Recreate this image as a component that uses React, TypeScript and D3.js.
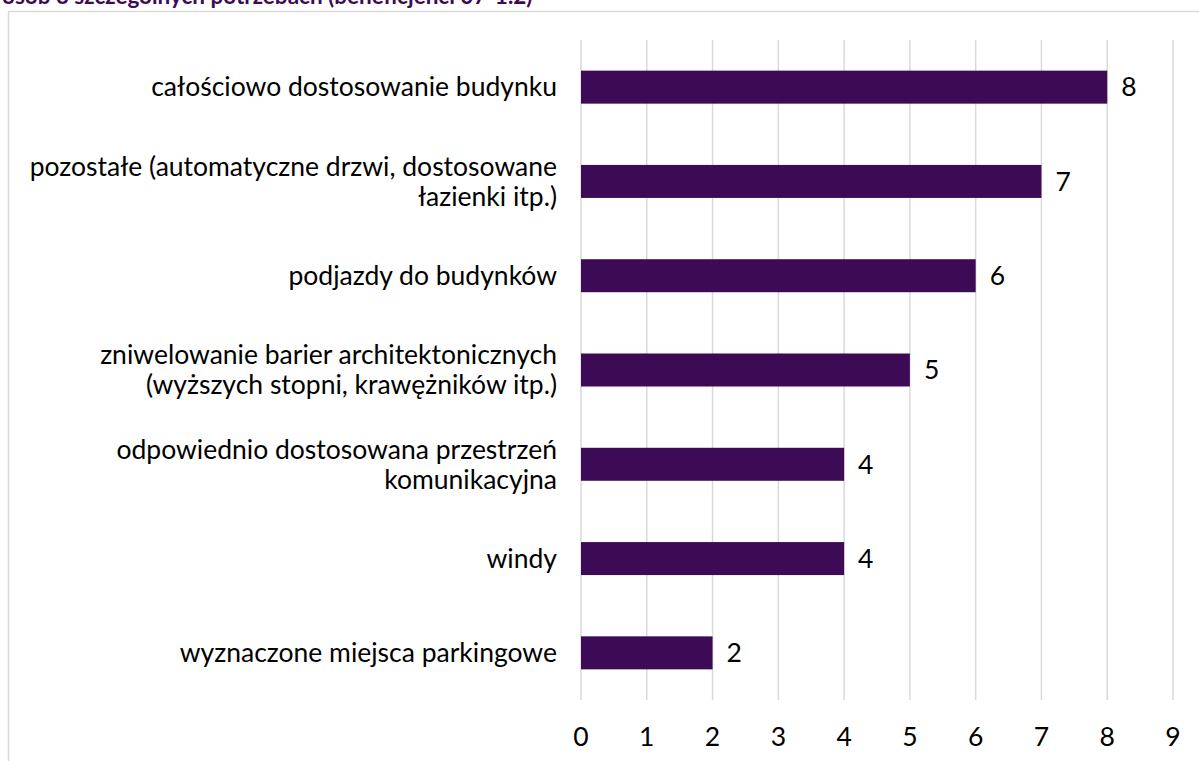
import React from "react";
import * as d3 from "d3";

const titleText = "osób o szczególnych potrzebach (beneficjenci 07-1.2)";
const categories: string[][] = [
  ["całościowo dostosowanie budynku"],
  ["pozostałe (automatyczne drzwi, dostosowane", "łazienki itp.)"],
  ["podjazdy do budynków"],
  ["zniwelowanie barier architektonicznych", "(wyższych stopni, krawężników itp.)"],
  ["odpowiednio dostosowana przestrzeń", "komunikacyjna"],
  ["windy"],
  ["wyznaczone miejsca parkingowe"],
];
const values = [8, 7, 6, 5, 4, 4, 2];
const ticks = [0, 1, 2, 3, 4, 5, 6, 7, 8, 9];

export default function App() {
  const W = 1199, H = 761;
  const x = d3.scaleLinear().domain([0, 9]).range([581, 1173]);
  const y = d3
    .scaleBand<number>()
    .domain(d3.range(categories.length))
    .range([40, 700])
    .paddingInner(0.65)
    .paddingOuter(0.325);
  const font = "Lato, 'Open Sans', sans-serif";
  const barColor = "#3d0a55";
  const fs = 26.5;
  return (
    <svg
      width={W}
      height={H}
      style={{ position: "absolute", left: 0, top: 0, background: "#fff" }}
      fontFamily={font}
    >
      <text x={2} y={4} fontSize={22.5} fontWeight={700} fill="#3d0a55">
        {titleText}
      </text>
      <rect x={8.5} y={11.5} width={W} height={H} fill="none" stroke="#d9d9d9" strokeWidth={1.5} />
      {ticks.map((t) => (
        <line key={t} x1={x(t)} x2={x(t)} y1={40} y2={700} stroke="#d9d9d9" strokeWidth={1.5} />
      ))}
      {values.map((v, i) => (
        <rect key={i} x={x(0)} y={y(i)!} width={x(v) - x(0)} height={y.bandwidth()} fill={barColor} />
      ))}
      {values.map((v, i) => (
        <text
          key={"v" + i}
          x={x(v) + 14}
          y={y(i)! + y.bandwidth() / 2}
          dy="0.35em"
          fontSize={fs}
          fill="#000"
        >
          {v}
        </text>
      ))}
      {categories.map((lines, i) => {
        const cy = y(i)! + y.bandwidth() / 2;
        const lh = 30;
        const start = cy - ((lines.length - 1) * lh) / 2;
        return (
          <text key={"c" + i} x={557} textAnchor="end" fontSize={fs} fill="#000">
            {lines.map((l, j) => (
              <tspan key={j} x={557} y={start + j * lh} dy="0.35em">
                {l}
              </tspan>
            ))}
          </text>
        );
      })}
      {ticks.map((t) => (
        <text key={"t" + t} x={x(t)} y={737} dy="0.35em" textAnchor="middle" fontSize={fs} fill="#000">
          {t}
        </text>
      ))}
    </svg>
  );
}
